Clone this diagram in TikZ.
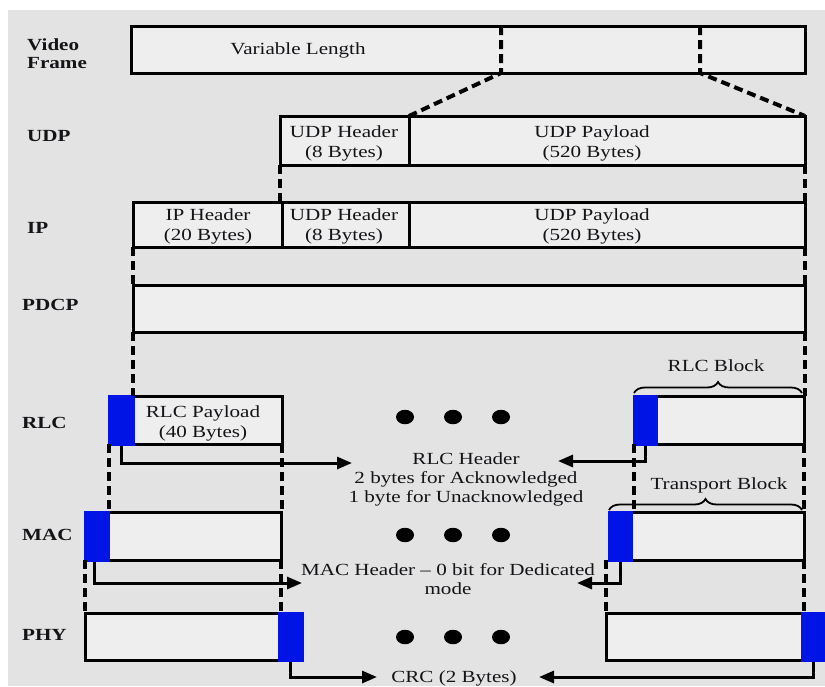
\documentclass[tikz,border=0pt]{standalone}
\usepackage{fontspec}
\setmainfont{Liberation Serif}[FakeStretch=1.24]
\usetikzlibrary{arrows.meta,decorations.pathreplacing,shapes.geometric}
\definecolor{bgc}{HTML}{E3E3E3}
\definecolor{boxc}{HTML}{EEEEEE}
\definecolor{hdr}{RGB}{0,20,230}
\definecolor{txt}{HTML}{141418}
\tikzset{
  pbox/.style={rectangle, draw=black, fill=boxc, line width=3pt, inner sep=0pt, outer sep=0pt},
  hbox/.style={rectangle, fill=hdr, inner sep=0pt, outer sep=0pt},
  lbl/.style={font=\fontsize{17}{20}\selectfont, text=txt, inner sep=0pt, anchor=base},
  rowlbl/.style={font=\fontsize{17}{20}\selectfont\bfseries, text=txt, inner sep=0pt, anchor=base west},
  dsh/.style={line width=4pt, dash pattern=on 9pt off 5pt},
  arr/.style={line width=3pt, -{Triangle[length=15pt,width=12pt]}},
  brc/.style={line width=1.8pt, decorate, decoration={brace, amplitude=11pt}},
  dotn/.style={ellipse, fill=black, minimum width=18pt, minimum height=14.5pt, inner sep=0pt},
}
\begin{document}
\begin{tikzpicture}[x=1pt,y=-1pt]
\useasboundingbox (0,0) rectangle (825,686);
\fill[white] (0,0) rectangle (825,686);
\fill[bgc] (8,10) rectangle (825,686);

% row labels
\node[rowlbl] (lv1) at (27,50) {Video};
\node[rowlbl] (lv2) at (27,68) {Frame};
\node[rowlbl] (ludp) at (27,141.5) {UDP};
\node[rowlbl] (lip) at (27,233) {IP};
\node[rowlbl] (lpdcp) at (22,310) {PDCP};
\node[rowlbl] (lrlc) at (22,428) {RLC};
\node[rowlbl] (lmac) at (22,540) {MAC};
\node[rowlbl] (lphy) at (22,640) {PHY};

% boxes
\node[pbox, minimum width=674pt, minimum height=47pt] (vf) at (468,49.5) {};
\node[pbox, minimum width=129pt, minimum height=49pt] (udpH) at (344.5,140.5) {};
\node[pbox, minimum width=396pt, minimum height=49pt] (udpP) at (607,140.5) {};
\node[pbox, minimum width=149pt, minimum height=45pt] (ipH) at (207.5,224.5) {};
\node[pbox, minimum width=127pt, minimum height=45pt] (ipU) at (345.5,224.5) {};
\node[pbox, minimum width=396pt, minimum height=45pt] (ipP) at (607,224.5) {};
\node[pbox, minimum width=672pt, minimum height=47pt] (pdcp) at (469,308.5) {};
\node[pbox, minimum width=173pt, minimum height=48pt] (rlcL) at (195.5,420) {};
\node[pbox, minimum width=170pt, minimum height=48pt] (rlcR) at (719,420) {};
\node[pbox, minimum width=196pt, minimum height=48pt] (macL) at (183,536) {};
\node[pbox, minimum width=195pt, minimum height=48pt] (macR) at (706.5,536) {};
\node[pbox, minimum width=217pt, minimum height=47pt] (phyL) at (193.5,636.5) {};
\node[pbox, minimum width=224pt, minimum height=47pt] (phyR) at (718,636.5) {};

% blue headers / trailers
\node[hbox, minimum width=27.5pt, minimum height=51pt] (rlcLh) at (121.25,420) {};
\node[hbox, minimum width=25.5pt, minimum height=51pt] (rlcRh) at (645.25,420) {};
\node[hbox, minimum width=26.5pt, minimum height=51pt] (macLh) at (96.75,536) {};
\node[hbox, minimum width=25.5pt, minimum height=51pt] (macRh) at (620.25,536) {};
\node[hbox, minimum width=25.5pt, minimum height=50pt] (phyLh) at (290.75,636.5) {};
\node[hbox, minimum width=25pt, minimum height=50pt] (phyRh) at (813.5,636.5) {};

% box texts
\node[lbl] (tvf) at (298,54) {Variable Length};
\node[lbl] (tudpH1) at (344,137) {UDP Header};
\node[lbl] (tudpH2) at (344,157) {(8 Bytes)};
\node[lbl] (tudpP1) at (592,137) {UDP Payload};
\node[lbl] (tudpP2) at (592,157) {(520 Bytes)};
\node[lbl] (tipH1) at (208,220) {IP Header};
\node[lbl] (tipH2) at (208,240) {(20 Bytes)};
\node[lbl] (tipU1) at (344,220) {UDP Header};
\node[lbl] (tipU2) at (344,240) {(8 Bytes)};
\node[lbl] (tipP1) at (592,220) {UDP Payload};
\node[lbl] (tipP2) at (592,240) {(520 Bytes)};
\node[lbl] (trlc1) at (203,417) {RLC Payload};
\node[lbl] (trlc2) at (203,437) {(40 Bytes)};

% dots
\foreach \yy/\nm in {417/r,535/m,637/p}{
  \node[dotn] (d1\nm) at (405,\yy) {};
  \node[dotn] (d2\nm) at (453,\yy) {};
  \node[dotn] (d3\nm) at (501,\yy) {};
}

% dashed expansion lines
\coordinate (vfa) at (501,26);
\coordinate (vfb) at (700,26);
\draw[dsh] (vfa) -- (vfa |- vf.south) -- (udpP.north west);
\draw[dsh] (vfb) -- (vfb |- vf.south) -- (udpP.north east);
\draw[dsh] (udpH.south west) -- (udpH.south west |- ipU.north);
\draw[dsh] (udpP.south east) -- (ipP.north east);
\draw[dsh] (ipH.south west) -- (pdcp.north west);
\draw[dsh] (ipP.south east) -- (pdcp.north east);
\draw[dsh] (pdcp.south west) -- (pdcp.south west |- rlcL.north);
\draw[dsh] (pdcp.south east) -- (pdcp.south east |- rlcR.north);
\draw[dsh] (rlcL.south west) -- (rlcL.south west |- macL.north);
\draw[dsh] (rlcL.south east) -- (rlcL.south east |- macL.north);
\draw[dsh] (rlcR.south west) -- (rlcR.south west |- macR.north);
\draw[dsh] (rlcR.south east) -- (macR.north east);
\draw[dsh] (macL.south west) -- (phyL.north west);
\draw[dsh] (macL.south east) -- (macL.south east |- phyL.north);
\draw[dsh] (phyR.north west |- macR.south) -- (phyR.north west);
\draw[dsh] (macR.south east) -- (macR.south east |- phyR.north);

% braces
\coordinate (rbA) at (634,393);
\coordinate (rbB) at (802,393);
\draw[brc] (rbA) -- (rbB);
\node[lbl] (trb) at (716,371) {RLC Block};
\coordinate (tbA) at (609,510);
\coordinate (tbB) at (802,510);
\draw[brc] (tbA) -- (tbB);
\node[lbl] (ttb) at (719,489) {Transport Block};

% header annotations
\node[lbl] (hr1) at (466,464) {RLC Header};
\node[lbl] (hr2) at (466,483) {2 bytes for Acknowledged};
\node[lbl] (hr3) at (466,502) {1 byte for Unacknowledged};
\node[lbl] (hm1) at (448,575) {MAC Header -- 0 bit for Dedicated};
\node[lbl] (hm2) at (448,594) {mode};
\node[lbl] (hc) at (454,682) {CRC (2 Bytes)};

% arrows
\coordinate (tipRL) at (352,463);
\coordinate (tipRR) at (558,461);
\coordinate (tipML) at (302,583);
\coordinate (tipMR) at (577,583);
\coordinate (tipCL) at (377,677);
\coordinate (tipCR) at (539,677);
\draw[arr] (rlcLh.south) |- (tipRL);
\draw[arr] (rlcRh.south) |- (tipRR);
\draw[arr] ([xshift=-2pt]macLh.south) |- (tipML);
\draw[arr] (macRh.south) |- (tipMR);
\draw[arr] (phyLh.south) |- (tipCL);
\draw[arr] (phyRh.south) |- (tipCR);
\end{tikzpicture}
\end{document}
